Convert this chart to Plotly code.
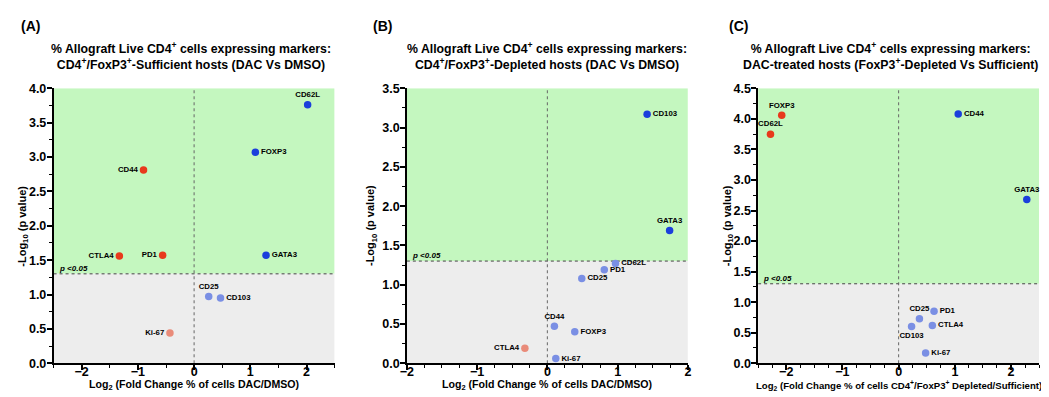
import plotly.graph_objects as go

# ---------------- data ----------------
THRESH = 1.301  # -log10(0.05)

a_markers = ["CD62L", "FOXP3", "CD44", "CTLA4", "PD1", "GATA3", "CD25", "CD103", "Ki-67"]
a_log2fc = [2.02, 1.09, -0.90, -1.33, -0.56, 1.28, 0.26, 0.47, -0.43]
a_neglogp = [3.76, 3.07, 2.81, 1.56, 1.57, 1.57, 0.97, 0.95, 0.44]

b_markers = ["CD103", "GATA3", "CD62L", "PD1", "CD25", "CD44", "FOXP3", "CTLA4", "Ki-67"]
b_log2fc = [1.42, 1.74, 0.97, 0.81, 0.49, 0.10, 0.39, -0.32, 0.12]
b_neglogp = [3.17, 1.69, 1.27, 1.19, 1.08, 0.47, 0.40, 0.19, 0.06]

c_markers = ["FOXP3", "CD62L", "CD44", "GATA3", "PD1", "CD25", "CTLA4", "CD103", "Ki-67"]
c_log2fc = [-2.08, -2.28, 1.06, 2.28, 0.63, 0.37, 0.60, 0.23, 0.48]
c_neglogp = [4.06, 3.75, 4.08, 2.68, 0.85, 0.73, 0.62, 0.60, 0.17]

panel_letters = ["(A)", "(B)", "(C)"]
titles = [
    "% Allograft Live CD4<sup>+</sup> cells expressing markers:<br>CD4<sup>+</sup>/FoxP3<sup>+</sup>-Sufficient hosts (DAC Vs DMSO)",
    "% Allograft Live CD4<sup>+</sup> cells expressing markers:<br>CD4<sup>+</sup>/FoxP3<sup>+</sup>-Depleted hosts (DAC Vs DMSO)",
    "% Allograft Live CD4<sup>+</sup> cells expressing markers:<br>DAC-treated hosts (FoxP3<sup>+</sup>-Depleted Vs Sufficient)",
]
x_titles = [
    "Log<sub>2</sub> (Fold Change % of cells DAC/DMSO)",
    "Log<sub>2</sub> (Fold Change % of cells DAC/DMSO)",
    "Log<sub>2</sub> (Fold Change % of cells CD4<sup>+</sup>/FoxP3<sup>+</sup> Depleted/Sufficient)",
]
y_title = "-Log<sub>10</sub> (p value)"

# ---------------- styling ----------------
W, H = 1049, 397
FONT = "Liberation Sans, Arial, sans-serif"
RED, BLUE, LBLUE, SALMON = "#E8391C", "#1B3FDC", "#7A8FE4", "#E98B79"
GREEN_BG, GREY_BG = "#C4F7BF", "#EDEDED"

a_pos = ["top center", "middle right", "middle left", "middle left", "middle left",
         "middle right", "top center", "middle right", "middle left"]
b_pos = ["middle right", "top center", "middle right", "middle right", "middle right",
         "top center", "middle right", "middle left", "middle right"]
c_pos = ["top center", "top center", "middle right", "top center", "middle right",
         "top center", "middle right", "bottom center", "middle right"]

panels = [
    dict(m=a_markers, x=a_log2fc, y=a_neglogp, pos=a_pos, xr=[-2.5, 2.5], yr=[0, 4.0],
         xdom=(39, 323), xminor=0.5, xticks=[-2, -1, 0, 1, 2], title_c=178, ytitle_x=8, xt_size=10.6),
    dict(m=b_markers, x=b_log2fc, y=b_neglogp, pos=b_pos, xr=[-2, 2], yr=[0, 3.5],
         xdom=(396, 680), xminor=0.25, xticks=[-2, -1, 0, 1, 2], title_c=538, ytitle_x=360, xt_size=10.6),
    dict(m=c_markers, x=c_log2fc, y=c_neglogp, pos=c_pos, xr=[-2.5, 2.5], yr=[0, 4.5],
         xdom=(751, 1035), xminor=0.25, xticks=[-2, -1, 0, 1, 2], title_c=885, ytitle_x=720, xt_size=9.6),
]
letter_x = [4, 360, 720]
ytop_px, ybot_px = 76, 361


def color_for(xv, yv):
    if yv >= THRESH:
        return RED if xv < 0 else BLUE
    return SALMON if xv < 0 else LBLUE


fig = go.Figure()
layout = dict(
    width=W, height=H, margin=dict(l=0, r=0, t=0, b=0),
    paper_bgcolor="white", plot_bgcolor="white", showlegend=False,
    font=dict(family=FONT, color="black"),
)
shapes, annotations = [], []

for i, p in enumerate(panels):
    n = "" if i == 0 else str(i + 1)
    xa, ya = "x" + n, "y" + n
    xd = (p["xdom"][0] / W, p["xdom"][1] / W)
    yd = (1 - ybot_px / H, 1 - ytop_px / H)
    layout["xaxis" + n] = dict(
        domain=xd, range=p["xr"], anchor=ya, tickvals=p["xticks"],
        showgrid=False, zeroline=False, showline=True, linecolor="black", linewidth=1.5,
        ticks="outside", ticklen=5, tickwidth=1.5, tickcolor="black", ticklabelstandoff=-9,
        tickfont=dict(family=FONT, size=12.5, color="black", weight="bold"),
        minor=dict(dtick=p["xminor"], ticks="outside", ticklen=3, tickwidth=1.2, tickcolor="black", showgrid=False),
        fixedrange=True,
    )
    layout["yaxis" + n] = dict(
        domain=yd, range=p["yr"], anchor=xa, dtick=0.5, tickformat=".1f",
        showgrid=False, zeroline=False, showline=True, linecolor="black", linewidth=1.5,
        ticks="outside", ticklen=5, tickwidth=1.5, tickcolor="black", ticklabelstandoff=-2,
        tickfont=dict(family=FONT, size=12.5, color="black", weight="bold"),
        minor=dict(dtick=0.25, ticks="outside", ticklen=3, tickwidth=1.2, tickcolor="black", showgrid=False),
        fixedrange=True,
    )
    # background regions
    shapes.append(dict(type="rect", xref=xa, yref=ya, x0=p["xr"][0], x1=p["xr"][1], y0=THRESH, y1=p["yr"][1],
                       fillcolor=GREEN_BG, line=dict(width=0), layer="below"))
    shapes.append(dict(type="rect", xref=xa, yref=ya, x0=p["xr"][0], x1=p["xr"][1], y0=p["yr"][0], y1=THRESH,
                       fillcolor=GREY_BG, line=dict(width=0), layer="below"))
    shapes.append(dict(type="line", xref=xa, yref=ya, x0=p["xr"][0], x1=p["xr"][1], y0=THRESH, y1=THRESH,
                       line=dict(color="#444444", width=1, dash="dot"), layer="below"))
    shapes.append(dict(type="line", xref=xa, yref=ya, x0=0, x1=0, y0=p["yr"][0], y1=p["yr"][1],
                       line=dict(color="#666666", width=1, dash="dot"), layer="below"))

    fig.add_trace(go.Scatter(
        x=p["x"], y=p["y"], text=p["m"], mode="markers+text", textposition=p["pos"],
        xaxis=xa, yaxis=ya, cliponaxis=False,
        marker=dict(size=7.5, color=[color_for(a, b) for a, b in zip(p["x"], p["y"])], line=dict(width=0)),
        textfont=dict(family=FONT, size=7.8, color="black", weight="bold"),
        hoverinfo="skip",
    ))

    annotations.append(dict(xref="paper", yref="paper", x=letter_x[i] / W, y=1 - 11 / H, xanchor="left",
                            yanchor="middle", text="<b>%s</b>" % panel_letters[i], showarrow=False,
                            font=dict(family=FONT, size=14, color="black")))
    annotations.append(dict(xref="paper", yref="paper", x=p["title_c"] / W, y=1 - 43 / H, xanchor="center",
                            yanchor="middle", text="<b>%s</b>" % titles[i], showarrow=False,
                            font=dict(family=FONT, size=12.3, color="black")))
    annotations.append(dict(xref="paper", yref="paper", x=(xd[0] + xd[1]) / 2, y=1 - 384 / H, xanchor="center",
                            yanchor="middle", text="<b>%s</b>" % x_titles[i], showarrow=False,
                            font=dict(family=FONT, size=p["xt_size"], color="black")))
    annotations.append(dict(xref="paper", yref="paper", x=p["ytitle_x"] / W, y=(yd[0] + yd[1]) / 2,
                            xanchor="center", yanchor="middle", textangle=-90,
                            text="<b>%s</b>" % y_title, showarrow=False,
                            font=dict(family=FONT, size=11, color="black")))
    annotations.append(dict(xref=xa, yref=ya, x=p["xr"][0], y=THRESH, xanchor="left", yanchor="bottom",
                            xshift=3, yshift=-1, text="<b><i>p &lt;0.05</i></b>", showarrow=False,
                            font=dict(family=FONT, size=8, color="black")))

layout["shapes"] = shapes
layout["annotations"] = annotations
fig.update_layout(**layout)
fig.write_html("out.html")
